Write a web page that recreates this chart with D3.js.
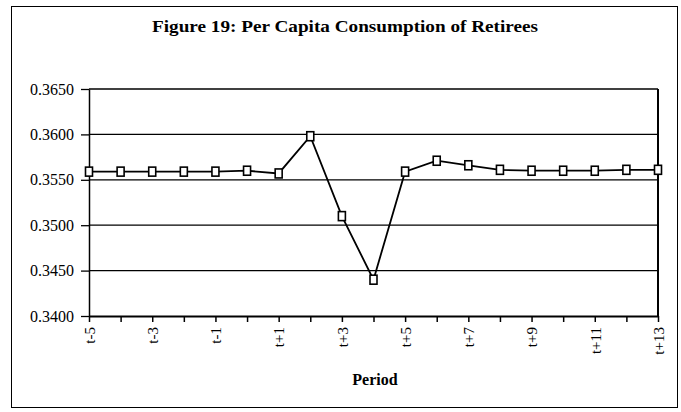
<!DOCTYPE html>
<html>
<head>
<meta charset="utf-8">
<script src="https://cdn.jsdelivr.net/npm/d3@7/dist/d3.min.js"></script>
<style>
  html, body { margin: 0; padding: 0; background: #fff; }
  svg { display: block; }
  text { font-family: "Liberation Serif", "Times New Roman", serif; fill: #000; }
</style>
</head>
<body>
<svg id="chart" width="681" height="412"></svg>
<script>
const periods = ["t-5","t-4","t-3","t-2","t-1","t","t+1","t+2","t+3","t+4","t+5","t+6","t+7","t+8","t+9","t+10","t+11","t+12","t+13"];
const consumption = [0.3559,0.3559,0.3559,0.3559,0.3559,0.3560,0.3557,0.3598,0.3510,0.3440,0.3559,0.3571,0.3566,0.3561,0.3560,0.3560,0.3560,0.3561,0.3561];
const yTicks = [0.3400,0.3450,0.3500,0.3550,0.3600,0.3650];
const xTickLabels = ["t-5","t-3","t-1","t+1","t+3","t+5","t+7","t+9","t+11","t+13"];
const titleText = "Figure 19: Per Capita Consumption of Retirees";
const xAxisTitle = "Period";

const svg = d3.select("#chart");
const m = { left: 89, right: 658, top: 89, bottom: 316 };

// outer frame
svg.append("rect").attr("x", 11.5).attr("y", 6.5).attr("width", 666).attr("height", 401)
  .attr("fill", "none").attr("stroke", "#000").attr("stroke-width", 1);

const x = d3.scalePoint().domain(periods).range([m.left, m.right]);
const y = d3.scaleLinear().domain([0.34, 0.365]).range([m.bottom, m.top]);

// gridlines
svg.append("g").selectAll("line").data(yTicks.slice(1)).join("line")
  .attr("x1", m.left).attr("x2", m.right)
  .attr("y1", d => y(d)).attr("y2", d => y(d))
  .attr("stroke", "#000").attr("stroke-width", 1.3);

// right border of plot
svg.append("line").attr("x1", m.right).attr("x2", m.right).attr("y1", m.top).attr("y2", m.bottom)
  .attr("stroke", "#000").attr("stroke-width", 2);

// y axis
const yAxis = d3.axisLeft(y).tickValues(yTicks).tickFormat(d3.format(".4f")).tickSizeInner(8).tickSizeOuter(0).tickPadding(7);
const gy = svg.append("g").attr("transform", `translate(${m.left},0)`).call(yAxis);
gy.select(".domain").attr("stroke", "#000").attr("stroke-width", 1.5);
gy.selectAll(".tick line").attr("stroke", "#000").attr("stroke-width", 1.3);
gy.selectAll(".tick text").attr("font-family", "Liberation Serif, serif").attr("font-size", 16).attr("fill", "#000");

// x axis
const xAxis = d3.axisBottom(x).tickSizeInner(6).tickSizeOuter(0).tickPadding(6)
  .tickFormat(d => xTickLabels.includes(d) ? d : "");
const gx = svg.append("g").attr("transform", `translate(0,${m.bottom})`).call(xAxis);
gx.select(".domain").attr("stroke", "#000").attr("stroke-width", 2);
gx.selectAll(".tick line").attr("stroke", "#000").attr("stroke-width", 1.5);
gx.selectAll(".tick text")
  .attr("font-family", "Liberation Serif, serif").attr("font-size", 15).attr("fill", "#000")
  .attr("transform", "rotate(-90)")
  .attr("text-anchor", "end")
  .attr("x", -11).attr("y", 0).attr("dy", "0.35em");

// line
const line = d3.line().x((d, i) => x(periods[i])).y(d => y(d));
svg.append("path").datum(consumption).attr("d", line)
  .attr("fill", "none").attr("stroke", "#000").attr("stroke-width", 1.8);

// markers
svg.append("g").selectAll("rect").data(consumption).join("rect")
  .attr("x", (d, i) => x(periods[i]) - 3.5).attr("y", d => y(d) - 4.5)
  .attr("width", 7).attr("height", 9)
  .attr("fill", "#fff").attr("stroke", "#000").attr("stroke-width", 1.6);

// title
svg.append("text").attr("x", 345).attr("y", 32).attr("text-anchor", "middle")
  .attr("font-size", 16).attr("font-weight", "bold")
  .attr("textLength", 386).attr("lengthAdjust", "spacingAndGlyphs")
  .text(titleText);

// x axis title
svg.append("text").attr("x", 375).attr("y", 385).attr("text-anchor", "middle")
  .attr("font-size", 16).attr("font-weight", "bold")
  .text(xAxisTitle);
</script>
</body>
</html>
